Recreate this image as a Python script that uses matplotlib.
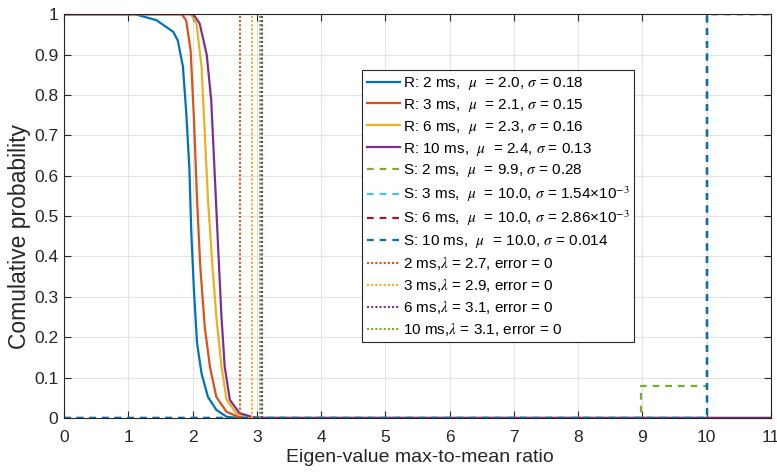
import matplotlib
matplotlib.use("Agg")
import matplotlib.pyplot as plt

plt.rcParams['font.family'] = ['Liberation Sans', 'DejaVu Sans']
plt.rcParams['mathtext.fontset'] = 'stix'

# R curves (complementary cumulative probability)
r2_x = [0, 1.10, 1.44, 1.70, 1.77, 1.85, 1.90, 1.95, 1.98, 2.02, 2.07, 2.14, 2.24, 2.37, 2.53, 2.70, 11]
r2_y = [1, 1.00, 0.985, 0.956, 0.935, 0.87, 0.76, 0.62, 0.46, 0.32, 0.185, 0.11, 0.052, 0.02, 0.003, 0, 0]
r3_x = [0, 1.83, 1.90, 1.97, 2.02, 2.07, 2.12, 2.19, 2.27, 2.37, 2.53, 2.73, 2.90, 11]
r3_y = [1, 1.00, 0.985, 0.91, 0.745, 0.54, 0.375, 0.225, 0.127, 0.052, 0.015, 0.002, 0, 0]
r6_x = [0, 1.97, 2.06, 2.14, 2.19, 2.24, 2.31, 2.37, 2.45, 2.53, 2.68, 2.89, 3.00, 11]
r6_y = [1, 1.00, 0.977, 0.87, 0.705, 0.54, 0.375, 0.25, 0.127, 0.045, 0.012, 0.002, 0, 0]
r10_x = [0, 2.01, 2.11, 2.22, 2.29, 2.34, 2.40, 2.45, 2.50, 2.58, 2.73, 2.94, 3.05, 11]
r10_y = [1, 1.00, 0.977, 0.90, 0.787, 0.62, 0.415, 0.25, 0.127, 0.045, 0.012, 0.002, 0, 0]

# S curves (steps)
s2_x = [0, 8.97, 8.97, 10, 10, 11]
s2_y = [0, 0, 0.079, 0.079, 1, 1]
s3_x = [0, 10, 10, 11]
s3_y = [0, 0, 1, 1]
s6_x = [0, 10, 10, 11]
s6_y = [0, 0, 1, 1]
s10_x = [0, 10, 10, 11]
s10_y = [0, 0, 1, 1]

# thresholds
lambdas = [2.74, 2.92, 3.08, 3.05]

labels_r = [r'R: 2 ms,  $\mu$  = 2.0, $\sigma$ = 0.18',
            r'R: 3 ms,  $\mu$  = 2.1, $\sigma$ = 0.15',
            r'R: 6 ms,  $\mu$  = 2.3, $\sigma$ = 0.16',
            r'R: 10 ms,  $\mu$  = 2.4, $\sigma$ = 0.13']
labels_s = [r'S: 2 ms,  $\mu$  = 9.9, $\sigma$ = 0.28',
            r'S: 3 ms,  $\mu$  = 10.0, $\sigma$ = 1.54×10$^{-3}$',
            r'S: 6 ms,  $\mu$  = 10.0, $\sigma$ = 2.86×10$^{-3}$',
            r'S: 10 ms,  $\mu$  = 10.0, $\sigma$ = 0.014']
labels_l = [r'2 ms,$\lambda$ = 2.7, error = 0',
            r'3 ms,$\lambda$ = 2.9, error = 0',
            r'6 ms,$\lambda$ = 3.1, error = 0',
            r'10 ms,$\lambda$ = 3.1, error = 0']

blue = '#0072BD'; orange = '#D95319'; yellow = '#EDB120'; purple = '#7E2F8E'
green = '#77AC30'; cyan = '#4DBEEE'; red = '#A2142F'

fig = plt.figure(figsize=(7.77, 4.72), dpi=100)
ax = fig.add_axes([0.0824, 0.1144, 0.9099, 0.8556])

lw = 1.6
dash = (0, (3, 2.7))
ax.plot(r2_x, r2_y, color=blue, lw=lw, label=labels_r[0])
ax.plot(r3_x, r3_y, color=orange, lw=lw, label=labels_r[1])
ax.plot(r6_x, r6_y, color=yellow, lw=lw, label=labels_r[2])
ax.plot(r10_x, r10_y, color=purple, lw=lw, label=labels_r[3])
ax.plot(s2_x, s2_y, color=green, lw=lw, ls=dash, label=labels_s[0])
ax.plot(s3_x, s3_y, color=cyan, lw=lw, ls=dash, label=labels_s[1])
ax.plot(s6_x, s6_y, color=red, lw=lw, ls=dash, label=labels_s[2])
ax.plot(s10_x, s10_y, color=blue, lw=lw, ls=dash, label=labels_s[3])
for lam, c, lab in zip(lambdas, [orange, yellow, purple, green], labels_l):
    ax.axvline(lam, color=c, lw=1.5, ls=(0, (1, 1)), label=lab)

ax.set_xlim(0, 11)
ax.set_ylim(0, 1)
ax.set_xticks(range(0, 12))
ax.set_yticks([i / 10 for i in range(11)])
ax.set_yticklabels(['0', '0.1', '0.2', '0.3', '0.4', '0.5', '0.6', '0.7', '0.8', '0.9', '1'])
ax.grid(True, color='#e3e3e3', lw=0.8)
ax.set_axisbelow(True)
ax.tick_params(direction='in', top=True, right=True, length=5, width=0.8,
               colors='#262626', labelsize=12.5, labelcolor='#262626')
ax.tick_params(axis='x', pad=8.5)
ax.tick_params(axis='y', pad=4)
for s in ax.spines.values():
    s.set_color('#262626')
    s.set_linewidth(0.8)
ax.set_xlabel('Eigen-value max-to-mean ratio', fontsize=14, color='#262626')
ax.set_ylabel('Comulative probability', fontsize=16.5, color='#262626')
ax.xaxis.set_label_coords(0.503, -0.077)
ax.yaxis.set_label_coords(-0.047, 0.449)

leg = ax.legend(loc='upper left', bbox_to_anchor=(0.422, 0.861), borderaxespad=0,
                fontsize=11, fancybox=False, framealpha=1, edgecolor='#262626',
                handlelength=2.15, handletextpad=0.2, labelspacing=0.32, borderpad=0.3)
leg.get_frame().set_linewidth(0.8)

fig.savefig('out.png', dpi=100)
